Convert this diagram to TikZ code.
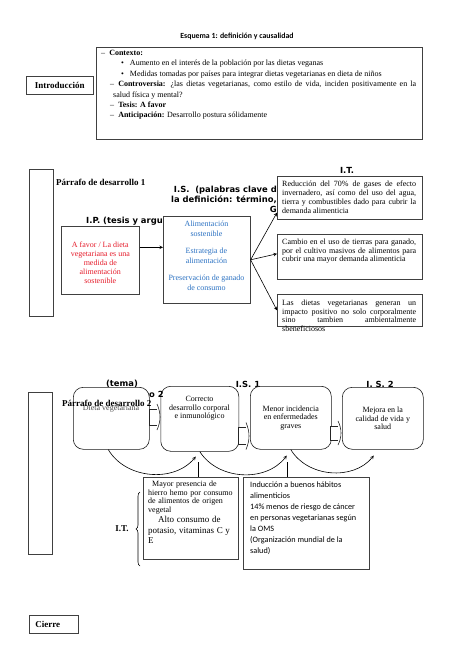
\documentclass[tikz,border=0pt]{standalone}
\usepackage{fontspec}
\setmainfont{Liberation Serif}
\newfontfamily\calibfont{Carlito}
\newfontfamily\dejafont{DejaVu Sans}
\usetikzlibrary{decorations.pathreplacing}
\setlength{\parindent}{0pt}
\definecolor{tred}{RGB}{230,30,45}
\definecolor{tblue}{RGB}{45,115,195}
\newcommand{\jstline}[2][134pt]{\makebox[#1][s]{#2}}
\tikzset{>=stealth,
    box/.style={draw=black!75, line width=0.6pt, fill=white, anchor=north west, inner sep=0pt},
    rbox/.style={box, draw=black!90, rounded corners=10pt},
    sanshead/.style={font=\dejafont\bfseries\fontsize{8.4}{10}\selectfont, inner sep=0pt},
    serifhead/.style={font=\bfseries\fontsize{9}{11}\selectfont, inner sep=0pt},
    txt/.style={font=\fontsize{8}{8.8}\selectfont, inner sep=0pt, align=left, anchor=north west},
    conn/.style={line width=0.6pt, black},
    blockarr/.style={draw=black!85, line width=0.6pt, fill=white}}

\begin{document}
\begin{tikzpicture}[x=1pt,y=-1pt]
    \useasboundingbox (0,0) rectangle (474,670);
    \node[font=\calibfont\bfseries\fontsize{7.8}{10}\selectfont] (title) at (237,36) {Esquema 1: definición y causalidad};
    \node[box, minimum width=326pt, minimum height=92pt] (intro) at (96,47) {};
    \node[txt, font=\fontsize{8}{10.4}\selectfont] (introtxt) at (100,50) {\hspace*{1pt}–\hspace{4pt}\textbf{Contexto:}\\
        \hspace*{21pt}\textbullet\hspace{6pt}Aumento en el interés de la población por las dietas veganas\\
        \hspace*{21pt}\textbullet\hspace{6pt}Medidas tomadas por países para integrar dietas vegetarianas en dieta de niños\\
        \hspace*{10pt}\jstline[306pt]{–\hspace{4pt}\textbf{Controversia:} ¿las dietas vegetarianas, como estilo de vida, inciden positivamente en la}\\
        \hspace*{13pt}salud física y mental?\\
        \hspace*{10pt}–\hspace{4pt}\textbf{Tesis: A favor}\\
        \hspace*{10pt}–\hspace{4pt}\textbf{Anticipación:} Desarrollo postura sólidamente};
    \node[box, serifhead, minimum width=67pt, minimum height=18pt] (introLbl) at (26,76) {Introducción};

    \node[box, minimum width=24pt, minimum height=147pt] (par1) at (29,169) {};
    \node[serifhead, anchor=west] (par1Lbl) at (56,182) {Párrafo de desarrollo 1};
    \node[sanshead, align=right, anchor=north east] (isHead) at (277,185.5) {I.S.\ \ (palabras clave d\\la definición: término,\\G};
    \node[sanshead, anchor=east] (ipHead) at (163,221) {I.P. (tesis y argu};
    \node[sanshead] (itHead) at (347,170) {I.T.};
    \node[box, minimum width=78pt, minimum height=68pt] (redbox) at (61,226) {};
    \node[font=\fontsize{8}{9}\selectfont, text=tred, align=center] (redtxt) at ([yshift=-2pt]redbox.center) {A favor / La dieta\\vegetariana es una\\medida de\\alimentación\\sostenible};
    \node[box, minimum width=87pt, minimum height=87pt] (isbox) at (163,216) {};
    \node[font=\fontsize{8}{9.3}\selectfont, text=tblue, align=center, anchor=north, inner sep=0pt] (istxt) at (206.5,221) {Alimentación\\sostenible\\[8.5pt]Estrategia de\\alimentación\\[8.5pt]Preservación de ganado\\de consumo};
    \node[box, minimum width=145pt, minimum height=43pt] (it1) at (277,176) {};
    \node[txt] (it1txt) at (282,181) {\jstline{Reducción del 70\% de gases de efecto}\\\jstline{invernadero, así como del uso del agua,}\\\jstline{tierra y combustibles dado para cubrir la}\\demanda alimenticia};
    \node[box, minimum width=145pt, minimum height=45pt] (it2) at (277,234) {};
    \node[txt] (it2txt) at (282,238.5) {\jstline{Cambio en el uso de tierras para ganado,}\\\jstline{por el cultivo masivos de alimentos para}\\cubrir una mayor demanda alimenticia};
    \node[box, minimum width=145pt, minimum height=32pt] (it3) at (277,294) {};
    \node[txt] (it3txt) at (282,299.5) {\jstline{Las dietas vegetarianas generan un}\\\jstline{impacto positivo no solo corporalmente}\\\jstline{sino tambien ambientalmente}\\sbeneficiosos};
    \draw[->, conn] ([yshift=13pt]redbox.east) -- ([yshift=13pt]redbox.east -| isbox.west);
    \draw[->, conn] (isbox.east) -- ([yshift=7pt]it1.south west);
    \draw[->, conn] (isbox.east) -- ([yshift=3pt]it2.west);
    \draw[->, conn] (isbox.east) -- (it3.west);

    \node[box, minimum width=24pt, minimum height=162pt] (par2) at (28,392) {};
    \node[sanshead] (temaHead) at (122,384) {(tema)};
    \node[sanshead] (is1Head) at (248,384) {I.S. 1};
    \node[sanshead] (is2Head) at (380,384) {I. S. 2};
    \node[rbox, minimum width=76pt, minimum height=62pt] (b1) at (73,387) {};
    \node[rbox, minimum width=78pt, minimum height=65pt] (b2) at (160.5,386) {};
    \node[rbox, minimum width=81pt, minimum height=63pt, font=\fontsize{8}{8.7}\selectfont, align=center] (b3) at (250,386) {Menor incidencia\\en enfermedades\\graves};
    \node[rbox, minimum width=81pt, minimum height=62pt, font=\fontsize{8}{8.7}\selectfont, align=center] (b4) at (342,387) {Mejora en la\\calidad de vida y\\salud};
    \node[sanshead, anchor=west] (oHead) at (149,394) {o 2};
    \node[font=\fontsize{8}{8.7}\selectfont, align=center, anchor=north, inner sep=0pt] (b2txt) at (199.5,396) {Correcto\\desarrollo corporal\\e inmunológico};
    \node[font=\fontsize{8}{9}\selectfont, text=black!70] (b1txt) at (111,409) {Dieta vegetariana};
    \node[serifhead, anchor=west] (par2Lbl) at (62,403) {Párrafo de desarrollo 2};
    \foreach \x/\y/\h in {149/417/16, 238/436/17, 330/433/14} {
        \draw[blockarr] (\x,\y-\h/2) rectangle (\x+8,\y+\h/2);
        \draw[blockarr] (\x+8,\y-\h/2-5) .. controls (\x+12,\y-4) and (\x+12,\y+4) .. (\x+8,\y+\h/2+5);
    }
    \draw[->, conn] ([xshift=-3pt]b1.south) to[bend right=55] ([xshift=-4pt,yshift=-5pt]b2.south);
    \draw[->, conn] (b2.south) to[bend right=55] ([xshift=-4pt,yshift=-6pt]b3.south);
    \draw[->, conn] (b3.south) to[bend right=55] ([xshift=-9pt,yshift=-6pt]b4.south);

    \node[box, minimum width=95pt, minimum height=82pt] (itA) at (143,477) {};
    \node[txt, text width=85pt] (itAtxt) at (148,481) {{\fontsize{8}{8.5}\selectfont\hspace*{4pt}Mayor presencia de\\hierro hemo por consumo\\de alimentos de origen\\vegetal\par}{\fontsize{9}{10.5}\selectfont\jstline[85pt]{\hspace*{10pt}Alto consumo de}\\\jstline[85pt]{potasio, vitaminas C y}\\E\par}};
    \node[box, minimum width=126pt, minimum height=92pt] (itB) at (243,477) {};
    \node[txt, font=\calibfont\fontsize{8.2}{11}\selectfont] (itBtxt) at (250,481.5) {Inducción a buenos hábitos\\alimenticios\\14\% menos de riesgo de cáncer\\en personas vegetarianas según\\la OMS\\(Organización mundial de la\\salud)};
    \coordinate (vl1) at (198,462);
    \coordinate (vl2) at (287,462);
    \draw[conn] (vl1) -- (vl1 |- itA.north);
    \draw[conn] (vl2) -- (vl2 |- itB.north);
    \coordinate (brb) at (140,566);
    \coordinate (brt) at (140,492);
    \draw[conn, decorate, decoration={brace, amplitude=4pt}] (brb) -- (brt);
    \node[serifhead] (itLbl) at (122,529) {I.T.};

    \node[box, serifhead, minimum height=18pt, text width=37pt, inner xsep=6pt, align=left] (cierre) at (29,615) {Cierre};
\end{tikzpicture}
\end{document}
